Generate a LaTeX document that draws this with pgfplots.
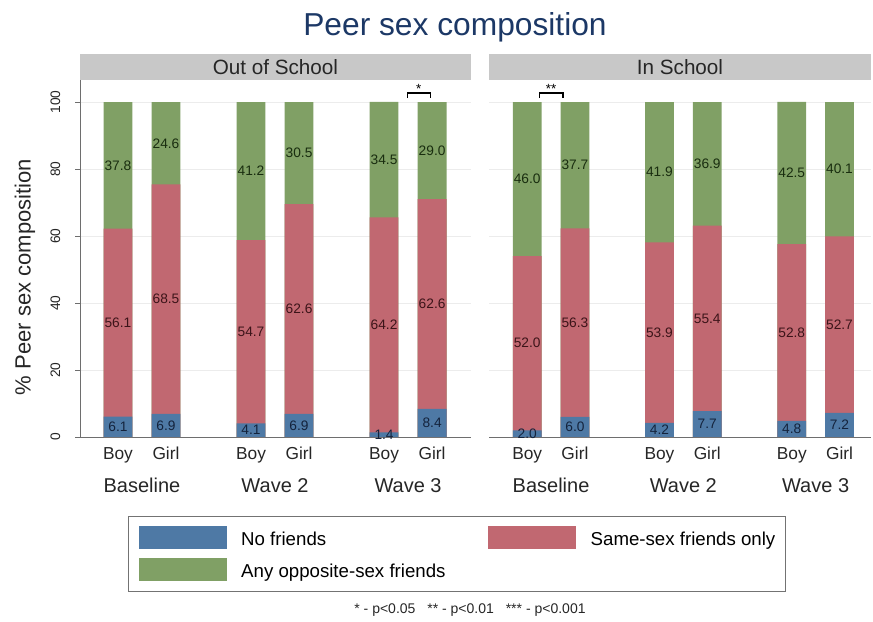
\documentclass[border=0pt]{standalone}
\usepackage{fontspec}
\setmainfont{Liberation Sans}
\usepackage{pgfplots}
\pgfplotsset{compat=1.18}
\usepackage{pgfplotstable}

\definecolor{cblue}{RGB}{78,121,165}
\definecolor{cred}{RGB}{193,104,113}
\definecolor{cgreen}{RGB}{128,160,101}
\definecolor{tblue}{RGB}{20,35,60}
\definecolor{tred}{RGB}{60,20,25}
\definecolor{tgreen}{RGB}{25,45,15}
\definecolor{stripc}{RGB}{200,200,200}
\definecolor{titlec}{RGB}{28,56,102}
\definecolor{axisgray}{RGB}{110,110,110}
\definecolor{gridc}{RGB}{236,236,236}

% Out of School: x, no friends, same-sex only, any opposite-sex
\pgfplotstableread{
x    nf   ss   os
0    6.1  56.1 37.8
1    6.9  68.5 24.6
2.77 4.1  54.7 41.2
3.77 6.9  62.6 30.5
5.54 1.4  64.2 34.5
6.54 8.4  62.6 29.0
}\outtab

% In School
\pgfplotstableread{
x    nf   ss   os
0    2.0  52.0 46.0
1    6.0  56.3 37.7
2.77 4.2  53.9 41.9
3.77 7.7  55.4 36.9
5.54 4.8  52.8 42.5
6.54 7.2  52.7 40.1
}\intab

\pgfplotsset{
  /pgf/number format/assume math mode=true,
  panel/.style={
    scale only axis, height=267.75pt,
    ymin=0, ymax=106.6, clip=false,
    axis x line*=bottom, axis y line*=left,
    ytick={0,20,...,100}, ymajorgrids,
    grid style={gridc, line width=0.6pt},
    xtick={0,1,2.77,3.77,5.54,6.54},
    xticklabels={Boy,Girl,Boy,Girl,Boy,Girl},
    xtick style={draw=none},
    axis line style={axisgray, line width=0.75pt},
    tick align=outside, major tick length=3.75pt,
    ytick style={axisgray, line width=0.75pt},
    xticklabel style={font=\fontsize{13}{15}\selectfont, text=black!85, anchor=base, yshift=-12.75pt},
    yticklabel style={font=\fontsize{10.3}{12}\selectfont, xshift=-7.5pt, rotate=90, anchor=south, text=black!85},
  },
  bars/.style={ybar, bar width=0.6, bar shift=0pt, draw=none, fill=#1, forget plot},
  vlab/.style={only marks, mark=none, forget plot, point meta=explicit,
    nodes near coords={\pgfmathprintnumber[fixed,fixed zerofill,precision=1]{\pgfplotspointmeta}},
    every node near coord/.style={anchor=center, font=\fontsize{10.3}{12}\selectfont, text=#1}},
  swatch/.style={legend image code/.code={\fill[##1, draw=none] (0pt,-7.35pt) rectangle (66pt,9.9pt); \path (76.5pt,0pt);}},
}

\begin{document}
\begin{tikzpicture}
\path[use as bounding box] (0,0) rectangle (654.75pt,465.75pt);

% ---------------- Out of School ----------------
\begin{axis}[panel, name=L, at={(60pt,138pt)}, anchor=south west,
  width=293.25pt, xmin=-0.79, xmax=7.35,
  ylabel={\% Peer sex composition},
  ylabel style={font=\fontsize{16.5}{19}\selectfont, text=black!85, at={(axis description cs:-0.1407,0.448)}, anchor=center},
  legend columns=2, legend cell align=left,
  legend style={at={(axis description cs:0.9642,-0.3277)}, anchor=center,
    draw=black!55, line width=0.75pt, inner xsep=7.5pt, inner ysep=7.5pt,
    column sep=0pt, row sep=6.75pt, nodes={inner sep=0pt},
    font=\fontsize{14}{16}\selectfont},
]
\addlegendimage{swatch, fill=cblue}
\addlegendentry{\makebox[185.25pt][l]{No friends}}
\addlegendimage{swatch, fill=cred}
\addlegendentry{Same-sex friends only}
\addlegendimage{swatch, fill=cgreen}
\addlegendentry{\makebox[185.25pt][l]{Any opposite-sex friends}}

\addplot[bars=cgreen] table[x=x, y expr=\thisrow{nf}+\thisrow{ss}+\thisrow{os}] {\outtab};
\addplot[bars=cred]   table[x=x, y expr=\thisrow{nf}+\thisrow{ss}] {\outtab};
\addplot[bars=cblue]  table[x=x, y=nf] {\outtab};

\addplot[vlab=tblue]  table[x=x, y expr=\thisrow{nf}/2, meta=nf] {\outtab};
\addplot[vlab=tred]   table[x=x, y expr=\thisrow{nf}+\thisrow{ss}/2, meta=ss] {\outtab};
\addplot[vlab=tgreen] table[x=x, y expr=\thisrow{nf}+\thisrow{ss}+\thisrow{os}/2, meta=os] {\outtab};

\node[anchor=base, yshift=-41.25pt, font=\fontsize{15}{18}\selectfont, text=black!85] at (axis cs:0.5,0) {Baseline};
\node[anchor=base, yshift=-41.25pt, font=\fontsize{15}{18}\selectfont, text=black!85] at (axis cs:3.27,0) {Wave 2};
\node[anchor=base, yshift=-41.25pt, font=\fontsize{15}{18}\selectfont, text=black!85] at (axis cs:6.04,0) {Wave 3};

\draw[line width=0.9pt] (axis cs:6.02,101.2) -- (axis cs:6.02,102.7) -- (axis cs:6.5,102.7) -- (axis cs:6.5,101.2);
\node[anchor=base, inner sep=0pt, font=\fontsize{10}{12}\selectfont] at (axis cs:6.26,102.7) {*};
\end{axis}

% ---------------- In School ----------------
\begin{axis}[panel, name=R, at={(366.75pt,138pt)}, anchor=south west,
  width=286.5pt, xmin=-0.8, xmax=7.2,
  y axis line style={draw=none}, yticklabels={}, ytick style={draw=none},
]
\addplot[bars=cgreen] table[x=x, y expr=\thisrow{nf}+\thisrow{ss}+\thisrow{os}] {\intab};
\addplot[bars=cred]   table[x=x, y expr=\thisrow{nf}+\thisrow{ss}] {\intab};
\addplot[bars=cblue]  table[x=x, y=nf] {\intab};

\addplot[vlab=tblue]  table[x=x, y expr=\thisrow{nf}/2, meta=nf] {\intab};
\addplot[vlab=tred]   table[x=x, y expr=\thisrow{nf}+\thisrow{ss}/2, meta=ss] {\intab};
\addplot[vlab=tgreen] table[x=x, y expr=\thisrow{nf}+\thisrow{ss}+\thisrow{os}/2, meta=os] {\intab};

\node[anchor=base, yshift=-41.25pt, font=\fontsize{15}{18}\selectfont, text=black!85] at (axis cs:0.5,0) {Baseline};
\node[anchor=base, yshift=-41.25pt, font=\fontsize{15}{18}\selectfont, text=black!85] at (axis cs:3.27,0) {Wave 2};
\node[anchor=base, yshift=-41.25pt, font=\fontsize{15}{18}\selectfont, text=black!85] at (axis cs:6.04,0) {Wave 3};

\draw[line width=0.9pt] (axis cs:0.25,101.2) -- (axis cs:0.25,102.7) -- (axis cs:0.75,102.7) -- (axis cs:0.75,101.2);
\node[anchor=base, inner sep=0pt, font=\fontsize{10}{12}\selectfont] at (axis cs:0.5,102.7) {**};
\end{axis}

% strips and title
\fill[stripc] (60pt,405.75pt) rectangle (353.25pt,425.25pt);
\fill[stripc] (366.75pt,405.75pt) rectangle (653.25pt,425.25pt);
\node[font=\fontsize{15.5}{18}\selectfont, text=black!85] at (206.6pt,415.5pt) {Out of School};
\node[font=\fontsize{15.5}{18}\selectfont, text=black!85] at (510pt,415.5pt) {In School};
\node[font=\fontsize{23.8}{28}\selectfont, text=titlec] at (341.25pt,445pt) {Peer sex composition};
\node[font=\fontsize{10.5}{12}\selectfont, text=black!85] at (352.5pt,8pt) {* - p<0.05\hspace{6pt} ** - p<0.01\hspace{6pt} *** - p<0.001};
\end{tikzpicture}
\end{document}
